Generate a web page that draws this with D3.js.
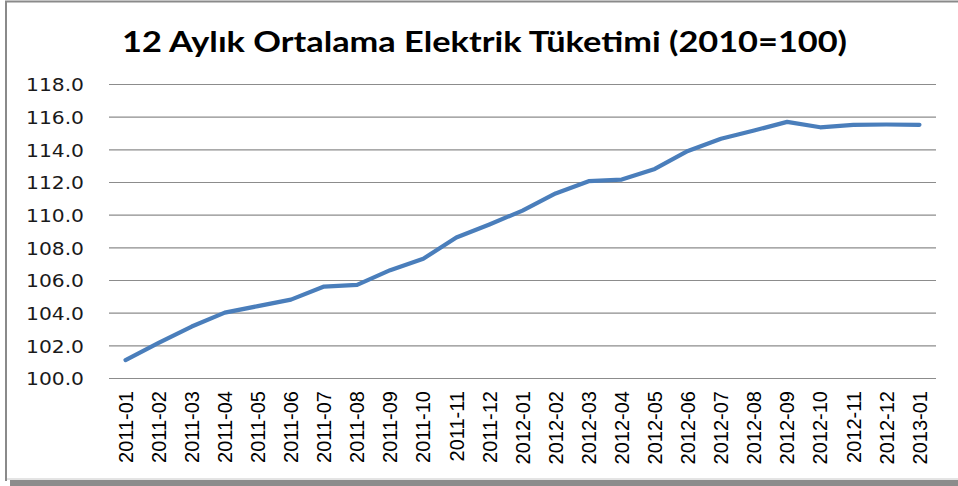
<!DOCTYPE html>
<html>
<head>
<meta charset="utf-8">
<script src="https://cdn.jsdelivr.net/npm/d3@7"></script>
<style>
  body { margin: 0; background: #fff; }
  svg { display: block; }
</style>
</head>
<body>
<div id="container"></div>
<script>
// data
const months = ['2011-01', '2011-02', '2011-03', '2011-04', '2011-05', '2011-06', '2011-07',
  '2011-08', '2011-09', '2011-10', '2011-11', '2011-12', '2012-01', '2012-02', '2012-03',
  '2012-04', '2012-05', '2012-06', '2012-07', '2012-08', '2012-09', '2012-10', '2012-11',
  '2012-12', '2013-01']
const consumption = [101.1, 102.15, 103.15, 104.0, 104.4, 104.8, 105.6, 105.7, 106.6, 107.3,
  108.6, 109.4, 110.25, 111.3, 112.05, 112.15, 112.8, 113.9, 114.65, 115.15, 115.68, 115.35,
  115.5, 115.52, 115.5]
const yTicks = [100, 102, 104, 106, 108, 110, 112, 114, 116, 118]
const title = '12 Aylık Ortalama Elektrik Tüketimi (2010=100)'

const width = 958
const height = 486
const marginLeft = 109
const marginRight = 22   // plot ends at 936
const marginTop = 84
const plotBottom = 378

const svg = d3.create('svg')
    .attr('width', width)
    .attr('height', height)

// frame + shadow
svg.append('rect')
    .attr('x', 10).attr('y', 480)
    .attr('width', width - 10).attr('height', 6)
    .attr('fill', '#8c8c8c')
svg.append('line')
    .attr('x1', 6).attr('x2', 6).attr('y1', 1).attr('y2', 481)
    .attr('stroke', '#8a8a8a').attr('stroke-width', 2)
svg.append('line')
    .attr('x1', 5).attr('x2', width).attr('y1', 1.5).attr('y2', 1.5)
    .attr('stroke', '#8a8a8a').attr('stroke-width', 2)
svg.append('line')
    .attr('x1', 7).attr('x2', width).attr('y1', 479).attr('y2', 479)
    .attr('stroke', '#c8c8c8').attr('stroke-width', 1)

const x = d3.scaleBand()
    .domain(months)
    .range([marginLeft, width - marginRight])

const y = d3.scaleLinear()
    .domain([100, 118])
    .range([plotBottom, marginTop])

// y axis with gridlines
const leftAxis = svg.append('g')
    .attr('transform', `translate(${marginLeft},0)`)
    .call(d3.axisLeft(y)
        .tickValues(yTicks)
        .tickFormat(d3.format('.1f'))
        .tickSizeInner(-(width - marginRight - marginLeft))
        .tickSizeOuter(0)
        .tickPadding(25))
leftAxis.select('.domain').remove()
leftAxis.selectAll('line')
    .attr('stroke', '#8c8c8c')
    .attr('stroke-width', 1.2)
leftAxis.selectAll('.tick text')
    .attr('fill', '#1a1a1a')
    .attr('dy', '0.4em')
    .style('font-family', 'DejaVu Sans')
    .style('font-size', '17px')
    .attr('textLength', 58)
    .attr('lengthAdjust', 'spacingAndGlyphs')

// x axis, labels turned upright
const bottomAxis = svg.append('g')
    .attr('transform', `translate(0,${plotBottom})`)
    .call(d3.axisBottom(x).tickSize(0))
bottomAxis.select('.domain').remove()
bottomAxis.selectAll('.tick text')
    .attr('transform', 'rotate(-90)')
    .attr('x', -13)
    .attr('y', 0)
    .attr('dy', '0.36em')
    .attr('text-anchor', 'end')
    .attr('fill', '#000')
    .style('font-family', 'Liberation Sans')
    .style('font-size', '20px')

// the line
const line = d3.line()
    .x((d, i) => x(months[i]) + x.bandwidth() / 2)
    .y(d => y(d))

svg.append('path')
    .datum(consumption)
    .attr('d', line)
    .attr('fill', 'none')
    .attr('stroke', '#4a7ebb')
    .attr('stroke-width', 4.2)
    .attr('stroke-linecap', 'round')
    .attr('stroke-linejoin', 'round')

// title
svg.append('text')
    .attr('x', 122)
    .attr('y', 52)
    .attr('textLength', 725)
    .attr('lengthAdjust', 'spacingAndGlyphs')
    .style('font-family', 'Lato')
    .style('font-weight', 'bold')
    .style('font-size', '28px')
    .attr('fill', '#000')
    .text(title)

d3.select('#container').append(() => svg.node())
</script>
</body>
</html>
